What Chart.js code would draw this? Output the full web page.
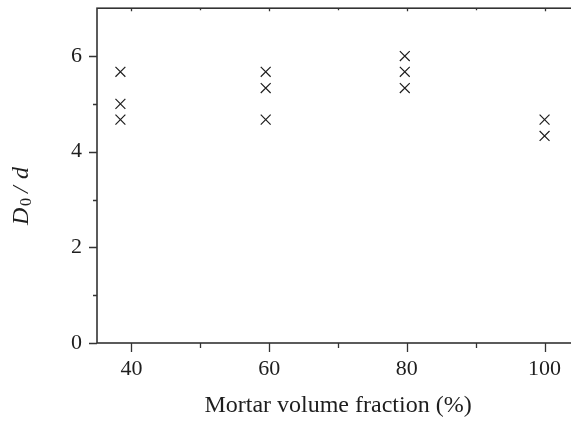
<!DOCTYPE html>
<html>
<head>
<meta charset="utf-8">
<script src="https://cdn.jsdelivr.net/npm/chart.js@4/dist/chart.umd.min.js"></script>
<style>
  html, body { margin: 0; padding: 0; background: #fff; overflow: hidden; }
  /* the plot box runs a little past the right edge of the view */
  #wrap { width: 571px; height: 421px; overflow: hidden; position: relative; }
  #chart { position: absolute; left: 0; top: 0; }
</style>
</head>
<body>
<div id="wrap"><canvas id="chart" width="600" height="421"></canvas></div>
<script>
// Measured D0/d against mortar volume fraction
const mortarFraction = [38.4, 38.4, 38.4, 59.5, 59.5, 59.5, 79.7, 79.7, 79.7, 100, 100];
const d0Ratio = [5.67, 5.0, 4.67, 5.67, 5.33, 4.67, 6.0, 5.67, 5.33, 4.67, 4.33];

// axis ticks
const xMajor = [40, 60, 80, 100];
const xMinor = [50, 70, 90];
const yMajor = [0, 2, 4, 6];
const yMinor = [1, 3, 5];

const serif = "'Liberation Serif', 'Times New Roman', serif";
const ink = "#1e1e1e";

// draws the frame, tick marks and the rotated y title
const framePlugin = {
  id: "frame",
  afterDraw(chart) {
    const { ctx, chartArea: a, scales } = chart;
    const x = scales.x, y = scales.y;
    ctx.save();
    ctx.strokeStyle = "#333";
    ctx.lineWidth = 1.6;
    ctx.strokeRect(a.left, a.top, a.right - a.left, a.bottom - a.top);

    ctx.lineWidth = 1.3;
    ctx.beginPath();
    const tickX = (vals, out, inn) => vals.forEach((v) => {
      const px = Math.round(x.getPixelForValue(v)) + 0.5;
      ctx.moveTo(px, a.bottom); ctx.lineTo(px, a.bottom + out);
      ctx.moveTo(px, a.top); ctx.lineTo(px, a.top + inn);
    });
    const tickY = (vals, out, inn) => vals.forEach((v) => {
      const py = Math.round(y.getPixelForValue(v)) + 0.5;
      ctx.moveTo(a.left, py); ctx.lineTo(a.left - out, py);
      ctx.moveTo(a.right, py); ctx.lineTo(a.right - inn, py);
    });
    tickX(xMajor, 9, 3);
    tickX(xMinor, 5, 2);
    tickY(yMajor, 8, 3);
    tickY(yMinor, 4, 2);
    ctx.stroke();

    // y title: italic D, upright subscript 0, slash, italic d (reads bottom to top)
    ctx.translate(28, 225);
    ctx.rotate(-Math.PI / 2);
    ctx.fillStyle = ink;
    ctx.textBaseline = "alphabetic";
    const parts = [
      { t: "D", f: "italic 24px " + serif, at: 0, dy: 0 },
      { t: "0", f: "16px " + serif, at: 19, dy: 3 },
      { t: "/", f: "italic 24px " + serif, at: 32, dy: 0 },
      { t: "d", f: "italic 24px " + serif, at: 46, dy: 0 },
    ];
    parts.forEach((p) => {
      ctx.font = p.f;
      ctx.fillText(p.t, p.at, p.dy);
    });
    ctx.restore();
  },
};

new Chart(document.getElementById("chart"), {
  type: "scatter",
  data: {
    datasets: [{
      data: mortarFraction.map((v, i) => ({ x: v, y: d0Ratio[i] })),
      pointStyle: "crossRot",
      radius: 7,
      borderWidth: 1.2,
      borderColor: ink,
      backgroundColor: ink,
    }],
  },
  options: {
    responsive: false,
    animation: false,
    layout: { padding: { top: 6, right: 21, left: 0, bottom: 0 } },
    plugins: { legend: { display: false }, tooltip: { enabled: false } },
    scales: {
      x: {
        type: "linear",
        min: 35,
        max: 105,
        afterBuildTicks: (s) => { s.ticks = xMajor.map((v) => ({ value: v })); },
        afterFit: (s) => { s.height = 78; s.paddingLeft = 0; s.paddingRight = 0; },
        grid: { display: false },
        border: { display: false },
        ticks: { color: ink, font: { family: serif, size: 22 }, padding: 5, maxRotation: 0 },
        title: {
          display: true,
          text: "Mortar volume fraction (%)",
          color: ink,
          font: { family: serif, size: 24 },
          padding: { top: 0, bottom: 1 },
        },
      },
      y: {
        min: 0,
        max: 7,
        afterBuildTicks: (s) => { s.ticks = yMajor.map((v) => ({ value: v })); },
        afterFit: (s) => { s.width = 97; s.paddingTop = 0; s.paddingBottom = 0; },
        grid: { display: false },
        border: { display: false },
        ticks: { color: ink, font: { family: serif, size: 22 }, padding: 7 },
      },
    },
  },
  plugins: [framePlugin],
});
</script>
</body>
</html>
